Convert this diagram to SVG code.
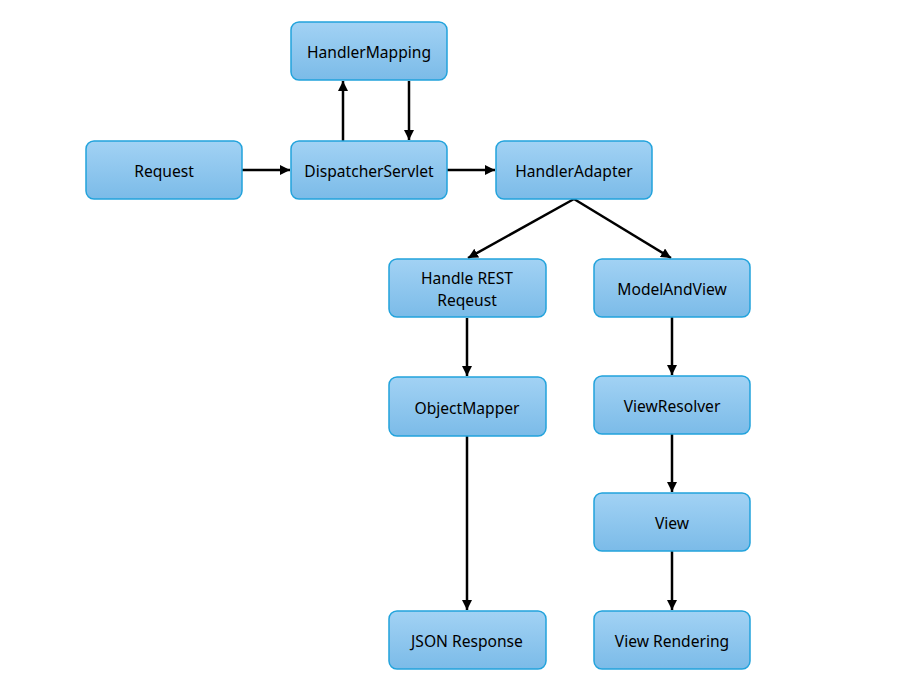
<svg xmlns="http://www.w3.org/2000/svg" width="900" height="697" viewBox="0 0 900 697">
  <style>
    .box { fill: url(#boxFill); stroke: #22a3dc; stroke-width: 1.5; }
    .label { font-family: "Noto Sans", "Open Sans", "Liberation Sans", sans-serif; font-size: 15.6px; fill: #000; text-anchor: middle; dominant-baseline: central; }
    .wire { stroke: #000; stroke-width: 2.5; fill: none; marker-end: url(#head); }
  </style>
  <defs>
    <linearGradient id="boxFill" x1="0" y1="0" x2="0" y2="1">
      <stop offset="0" stop-color="#a2d2f4"/>
      <stop offset="1" stop-color="#7bbbe8"/>
    </linearGradient>
    <marker id="head" viewBox="0 0 10 10" refX="10" refY="5" markerWidth="4" markerHeight="4" orient="auto" markerUnits="strokeWidth">
      <path d="M0,0 L10,5 L0,10 z" fill="#000"/>
    </marker>
  </defs>
  <rect width="900" height="697" fill="#fff"/>

  <g id="connectors">
    <line class="wire" x1="242" y1="170" x2="290" y2="170"/>
    <line class="wire" x1="447" y1="170" x2="495" y2="170"/>
    <line class="wire" x1="343" y1="141" x2="343" y2="81"/>
    <line class="wire" x1="409" y1="81" x2="409" y2="140"/>
    <line class="wire" x1="574" y1="199" x2="468" y2="258"/>
    <line class="wire" x1="574" y1="199" x2="671" y2="258"/>
    <line class="wire" x1="467" y1="318" x2="467" y2="376"/>
    <line class="wire" x1="672" y1="317" x2="672" y2="375"/>
    <line class="wire" x1="467" y1="436" x2="467" y2="610"/>
    <line class="wire" x1="672" y1="434" x2="672" y2="492"/>
    <line class="wire" x1="672" y1="551" x2="672" y2="610"/>
  </g>

  <g id="handler-mapping">
    <rect class="box" x="291" y="22" width="156" height="58" rx="8"/>
    <text class="label" x="369" y="52">HandlerMapping</text>
  </g>
  <g id="request">
    <rect class="box" x="86" y="141" width="156" height="58" rx="8"/>
    <text class="label" x="164" y="171">Request</text>
  </g>
  <g id="dispatcher-servlet">
    <rect class="box" x="291" y="141" width="156" height="58" rx="8"/>
    <text class="label" x="369" y="171">DispatcherServlet</text>
  </g>
  <g id="handler-adapter">
    <rect class="box" x="496" y="141" width="156" height="58" rx="8"/>
    <text class="label" x="574" y="171">HandlerAdapter</text>
  </g>
  <g id="handle-rest">
    <rect class="box" x="389" y="259" width="157" height="58" rx="8"/>
    <text class="label" x="467" y="278">Handle REST</text>
    <text class="label" x="467" y="300">Reqeust</text>
  </g>
  <g id="model-and-view">
    <rect class="box" x="594" y="259" width="156" height="58" rx="8"/>
    <text class="label" x="672" y="289">ModelAndView</text>
  </g>
  <g id="object-mapper">
    <rect class="box" x="389" y="377" width="157" height="59" rx="8"/>
    <text class="label" x="467" y="408">ObjectMapper</text>
  </g>
  <g id="view-resolver">
    <rect class="box" x="594" y="376" width="156" height="58" rx="8"/>
    <text class="label" x="672" y="406">ViewResolver</text>
  </g>
  <g id="view">
    <rect class="box" x="594" y="493" width="156" height="58" rx="8"/>
    <text class="label" x="672" y="523">View</text>
  </g>
  <g id="json-response">
    <rect class="box" x="389" y="611" width="157" height="58" rx="8"/>
    <text class="label" x="467" y="641">JSON Response</text>
  </g>
  <g id="view-rendering">
    <rect class="box" x="594" y="611" width="156" height="58" rx="8"/>
    <text class="label" x="672" y="641">View Rendering</text>
  </g>
</svg>
